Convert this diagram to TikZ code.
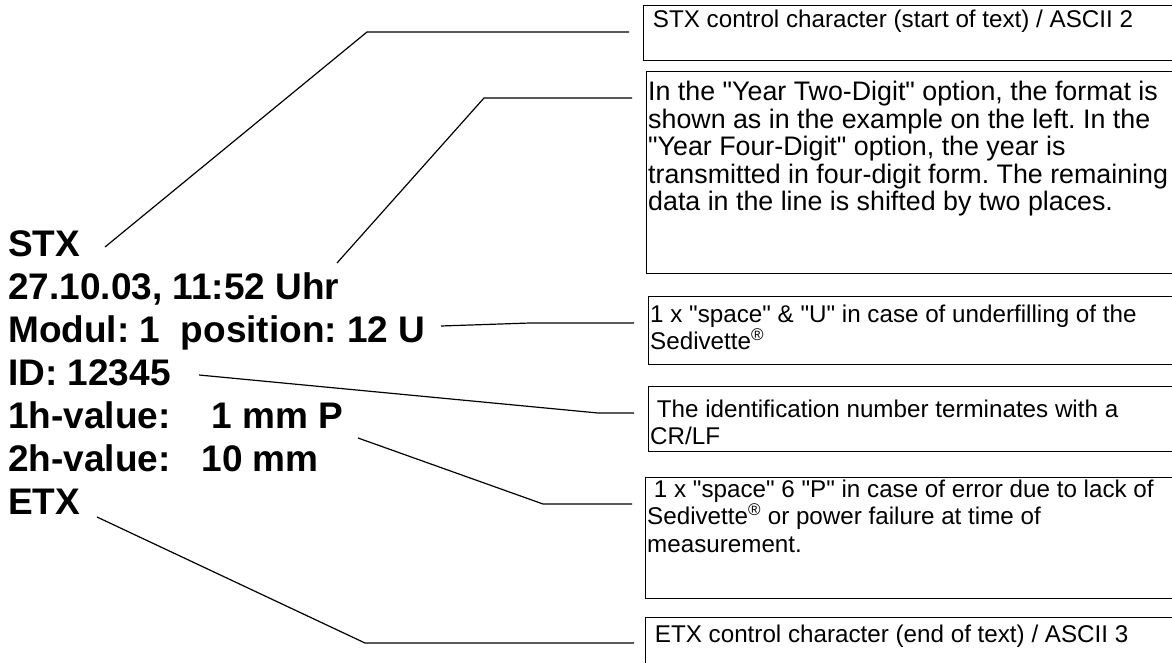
\documentclass[tikz,border=0pt]{standalone}
\usepackage{fontspec}
\setmainfont{Liberation Sans}[Ligatures=TeXOff]
\usepackage{tikz}
\frenchspacing

\begin{document}
\begin{tikzpicture}[x=1pt, y=-1pt,
  recline/.style={font=\fontsize{37}{43}\selectfont\bfseries, anchor=base west, inner sep=0pt},
  note/.style={font=\fontsize{24.2}{27.5}\selectfont, anchor=base west, inner sep=0pt, align=left},
  bignote/.style={note, font=\fontsize{26.8}{27.5}\selectfont},
  frame/.style={draw, line width=1.3pt, anchor=north west, minimum width=560pt, inner sep=0pt},
  leader/.style={line width=1.2pt}]
\newcommand{\Lx}{8}; % left edge of the record
\newcommand{\Lh}{43}; % line pitch of the record

\useasboundingbox (0,0) rectangle (1172,663);
\clip (0,0) rectangle (1172,663);

% record as printed
\node[recline] (stx)  at (\Lx, 256)         {STX};
\node[recline] (date) at (\Lx, 256 + 1*\Lh) {27.10.03, 11:52 Uhr};
\node[recline] (modul) at (\Lx, 256 + 2*\Lh) {Modul: 1\ \ position: 12 U};
\node[recline] (id)   at (\Lx, 256 + 3*\Lh) {ID: 12345};
\node[recline] (oneh) at (\Lx, 256 + 4*\Lh) {1h-value:\ \ \ \ 1 mm P};
\node[recline] (twoh) at (\Lx, 256 + 5*\Lh) {2h-value:\ \ \ 10 mm};
\node[recline] (etx)  at (\Lx, 256 + 6*\Lh) {ETX};

% explanation boxes
\node[frame, minimum height=55pt]  (stxbox)  at (643, 5)   {};
\node[frame, minimum height=202pt] (yearbox) at (646, 71)  {};
\node[frame, minimum height=68pt]  (ubox)    at (648, 296) {};
\node[frame, minimum height=65pt]  (idbox)   at (648, 386) {};
\node[frame, minimum height=121pt] (pbox)    at (645, 477) {};
\node[frame, minimum height=60pt]  (etxbox)  at (645, 617) {};

% notes (base anchor = last line)
\node[note] (stxnote)  at ([shift={(3,23)}]stxbox.north west)    {\ STX control character (start of text) / ASCII 2};
\node[bignote] (yearnote) at ([shift={(2,140)}]yearbox.north west) {In the "Year Two-Digit" option, the format is\\
  shown as in the example on the left. In the\\
  "Year Four-Digit" option, the year is\\
  transmitted in four-digit form. The remaining\\
  data in the line is shifted by two places.};
\node[note] (unote)    at ([shift={(2,53.5)}]ubox.north west)    {1 x "space" \& "U" in case of underfilling of the\\
  Sedivette\textsuperscript{\textregistered}};
\node[note] (idnote)   at ([shift={(2,58.5)}]idbox.north west)   {\ The identification number terminates with a\\
  CR/LF};
\node[note] (pnote)    at ([shift={(2,75)}]pbox.north west)      {\ 1 x "space" 6 "P" in case of error due to lack of\\
  Sedivette\textsuperscript{\textregistered} or power failure at time of\\
  measurement.};
\node[note] (etxnote)  at ([shift={(3,25)}]etxbox.north west)    {\ ETX control character (end of text) / ASCII 3};

% leaders
\coordinate (stxA)  at (105, 247);
\coordinate (stxB)  at (367, 32);
\coordinate (dateA) at (337, 263);
\coordinate (dateB) at (484, 98);
\coordinate (modA)  at (441, 326);
\coordinate (modB)  at (530, 323);
\coordinate (idA)   at (199, 375);
\coordinate (idB)   at (598, 413);
\coordinate (onehA) at (358, 438);
\coordinate (onehB) at (543, 504);
\coordinate (etxA)  at (97, 517);
\coordinate (etxB)  at (365, 643);

\draw[leader] (stxA)  -- (stxB)  -- ([shift={(-14,27)}]stxbox.north west);
\draw[leader] (dateA) -- (dateB) -- ([shift={(-14,27)}]yearbox.north west);
\draw[leader] (modA)  -- (modB)  -- ([shift={(-14,27)}]ubox.north west);
\draw[leader] (idA)   -- (idB)   -- ([shift={(-14,27)}]idbox.north west);
\draw[leader] (onehA) -- (onehB) -- ([shift={(-13,27)}]pbox.north west);
\draw[leader] (etxA)  -- (etxB)  -- ([shift={(-11,26)}]etxbox.north west);
\end{tikzpicture}
\end{document}
